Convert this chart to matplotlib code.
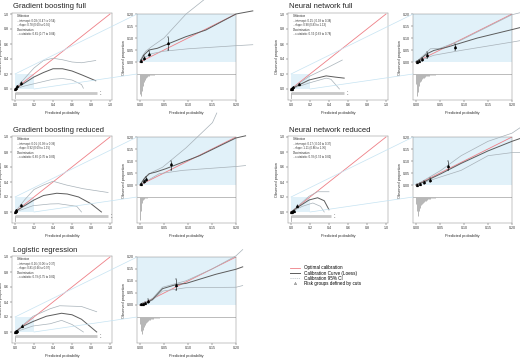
import matplotlib
matplotlib.use("Agg")
import matplotlib.pyplot as plt
from matplotlib.lines import Line2D
from matplotlib.patches import ConnectionPatch, Rectangle

W, H = 520, 358
RED = "#ee7f86"
DARK = "#5c5c5c"
CI = "#a7b1b8"
SHADE = "#e1f1f9"
LINK = "#c6e3f2"
INK = "#333333"

plt.rcParams["font.family"] = ["Liberation Sans", "DejaVu Sans"]

# ---- data ----------------------------------------------------------------
titles = ["Gradient boosting full", "Neural network full",
          "Gradient boosting reduced", "Neural network reduced",
          "Logistic regression"]
intercepts = ["0.03 (-0.47 to 0.54)", "0.15 (-0.08 to 0.38)",
              "0.01 (-0.38 to 0.39)", "0.17 (-0.04 to 0.37)",
              "0.16 (-0.06 to 0.37)"]
slopes = ["0.78 (0.60 to 0.96)", "0.98 (0.83 to 1.13)",
          "0.92 (0.69 to 1.15)", "1.11 (0.86 to 1.36)",
          "0.81 (0.66 to 0.97)"]
cstats = ["0.81 (0.77 to 0.84)", "0.74 (0.69 to 0.78)",
          "0.80 (0.76 to 0.83)", "0.78 (0.74 to 0.82)",
          "0.79 (0.75 to 0.82)"]

# left panels (full range), (x, y) pairs
gbf_l_cal = [(0, 0), (0.1, 0.08), (0.2, 0.16), (0.3, 0.22), (0.4, 0.27), (0.5, 0.27), (0.6, 0.24), (0.7, 0.19), (0.85, 0.11)]
gbf_l_up = [(0, 0), (0.1, 0.14), (0.2, 0.28), (0.3, 0.38), (0.4, 0.41), (0.5, 0.39), (0.6, 0.36), (0.7, 0.35), (0.85, 0.38)]
gbf_l_lo = [(0, 0), (0.1, 0.04), (0.2, 0.07), (0.3, 0.10), (0.4, 0.13), (0.5, 0.14), (0.6, 0.12), (0.7, 0.06), (0.72, 0.01)]
nnf_l_cal = [(0, 0), (0.09, 0.057), (0.19, 0.12), (0.37, 0.175), (0.47, 0.158), (0.56, 0.145)]
nnf_l_up = [(0, 0), (0.19, 0.167), (0.37, 0.276), (0.54, 0.386)]
nnf_l_lo = [(0, 0), (0.19, 0.08), (0.37, 0.145), (0.42, 0.13), (0.51, 0.0)]
gbr_l_cal = [(0, 0), (0.05, 0.044), (0.2, 0.16), (0.3, 0.22), (0.44, 0.25), (0.55, 0.24), (0.67, 0.2), (0.8, 0.11), (0.91, 0.0)]
gbr_l_up = [(0, 0), (0.1, 0.16), (0.2, 0.3), (0.3, 0.36), (0.4, 0.41), (0.54, 0.36), (0.72, 0.31), (0.98, 0.26)]
gbr_l_lo = [(0, 0), (0.19, 0.084), (0.37, 0.107), (0.46, 0.11), (0.65, 0.076), (0.7, 0.0)]
nnr_l_cal = [(0, 0), (0.087, 0.076), (0.19, 0.16), (0.28, 0.19), (0.35, 0.15), (0.4, 0.03)]
nnr_l_up = [(0, 0), (0.19, 0.21), (0.28, 0.27), (0.4, 0.27)]
nnr_l_lo = [(0, 0), (0.12, 0.076), (0.23, 0.12), (0.31, 0.076), (0.35, 0.0)]
lr_l_cal = [(0, 0), (0.09, 0.08), (0.19, 0.14), (0.33, 0.21), (0.49, 0.25), (0.6, 0.23), (0.7, 0.17), (0.86, 0.0)]
lr_l_up = [(0, 0), (0.19, 0.21), (0.37, 0.31), (0.47, 0.35), (0.7, 0.34), (0.86, 0.27)]
lr_l_lo = [(0, 0), (0.19, 0.08), (0.37, 0.11), (0.49, 0.155), (0.6, 0.1), (0.72, 0.0)]

# right panels (zoom 0-0.2)
gbf_r_cal = [(0, 0), (0.008, 0.029), (0.019, 0.05), (0.026, 0.053), (0.036, 0.057), (0.053, 0.071), (0.095, 0.105), (0.137, 0.133), (0.2, 0.2), (0.235, 0.213)]
gbf_r_up = [(0, 0), (0.005, 0.025), (0.012, 0.045), (0.025, 0.065), (0.05, 0.1), (0.096, 0.2), (0.14, 0.27)]
gbf_r_lo = [(0, 0), (0.01, 0.02), (0.025, 0.035), (0.05, 0.045), (0.1, 0.055), (0.2, 0.068), (0.235, 0.072)]
nnf_r_cal = [(0, 0), (0.008, 0.01), (0.0225, 0.034), (0.037, 0.048), (0.065, 0.062), (0.128, 0.1), (0.2, 0.135), (0.22, 0.145)]
nnf_r_up = [(0, 0), (0.019, 0.034), (0.03, 0.055), (0.05, 0.057), (0.093, 0.09), (0.2, 0.197), (0.22, 0.207)]
nnf_r_lo = [(0, 0), (0.037, 0.028), (0.093, 0.048), (0.2, 0.083), (0.22, 0.09)]
gbr_r_cal = [(0, 0), (0.009, 0.027), (0.019, 0.047), (0.033, 0.054), (0.054, 0.068), (0.124, 0.122), (0.2, 0.196), (0.22, 0.205)]
gbr_r_up = [(0, 0), (0.012, 0.034), (0.026, 0.054), (0.047, 0.074), (0.096, 0.155), (0.151, 0.26), (0.16, 0.3)]
gbr_r_lo = [(0, 0), (0.04, 0.047), (0.089, 0.061), (0.137, 0.068), (0.2, 0.077), (0.22, 0.081)]
nnr_r_cal = [(0, 0), (0.017, 0.0135), (0.052, 0.047), (0.094, 0.09), (0.15, 0.142), (0.2, 0.182), (0.22, 0.196)]
nnr_r_up = [(0, 0), (0.052, 0.061), (0.094, 0.122), (0.15, 0.182), (0.2, 0.216), (0.22, 0.243)]
nnr_r_lo = [(0, 0), (0.052, 0.034), (0.094, 0.061), (0.15, 0.122), (0.2, 0.135), (0.22, 0.135)]
lr_r_cal = [(0, 0), (0.0125, 0.007), (0.026, 0.023), (0.047, 0.068), (0.075, 0.085), (0.096, 0.09), (0.158, 0.128), (0.2, 0.149), (0.214, 0.159)]
lr_r_up = [(0, 0), (0.026, 0.027), (0.047, 0.074), (0.096, 0.101), (0.15, 0.15), (0.2, 0.205), (0.214, 0.231)]
lr_r_lo = [(0, 0), (0.026, 0.02), (0.047, 0.058), (0.096, 0.072), (0.2, 0.074), (0.214, 0.081)]

# risk groups: x, observed, lower, upper
gbf_pts = ([0.003, 0.009, 0.018, 0.058], [0.004, 0.015, 0.035, 0.079], [0.0, 0.008, 0.025, 0.052], [0.008, 0.025, 0.045, 0.104])
nnf_pts = ([0.002, 0.007, 0.012, 0.022, 0.082], [0.002, 0.006, 0.012, 0.028, 0.062], [0.0, 0.002, 0.006, 0.018, 0.048], [0.005, 0.01, 0.018, 0.04, 0.076])
gbr_pts = ([0.002, 0.008, 0.013, 0.065], [0.003, 0.015, 0.025, 0.088], [0.0, 0.008, 0.015, 0.061], [0.006, 0.022, 0.035, 0.101])
nnr_pts = ([0.002, 0.009, 0.017, 0.03, 0.066], [0.002, 0.006, 0.012, 0.02, 0.081], [0.0, 0.002, 0.006, 0.012, 0.061], [0.005, 0.01, 0.018, 0.03, 0.101])
lr_pts = ([0.002, 0.006, 0.01, 0.017, 0.075], [0.003, 0.006, 0.009, 0.018, 0.085], [0.0, 0.002, 0.004, 0.01, 0.061], [0.006, 0.01, 0.014, 0.026, 0.108])

# spike histogram of predictions (non-events, downward), bins of 0.002
hist_bin = 0.002
gbf_hist = [0.085, 0.09, 0.07, 0.05, 0.035, 0.025, 0.018, 0.013, 0.01, 0.008, 0.006, 0.005, 0.004, 0.003, 0.003, 0.002, 0.002, 0.002, 0.001, 0.001]
nnf_hist = [0.04, 0.09, 0.075, 0.05, 0.035, 0.028, 0.022, 0.018, 0.015, 0.012, 0.01, 0.009, 0.008, 0.007, 0.006, 0.005, 0.004, 0.004, 0.003, 0.003, 0.002, 0.002, 0.002, 0.001, 0.001]
gbr_hist = [0.095, 0.06, 0.025, 0.012, 0.008, 0.005, 0.004, 0.003, 0.002, 0.002, 0.001]
nnr_hist = [0.03, 0.06, 0.08, 0.06, 0.045, 0.035, 0.03, 0.025, 0.02, 0.018, 0.015, 0.012, 0.01, 0.009, 0.008, 0.006, 0.005, 0.004, 0.003, 0.003, 0.002, 0.002, 0.001]
lr_hist = [0.03, 0.06, 0.07, 0.055, 0.04, 0.032, 0.026, 0.02, 0.017, 0.014, 0.012, 0.01, 0.008, 0.007, 0.006, 0.005, 0.004, 0.004, 0.003, 0.003, 0.002, 0.002, 0.002, 0.001, 0.001]
max_pred = [0.86, 0.56, 0.98, 0.42, 0.86]

models = [
    (gbf_l_cal, gbf_l_up, gbf_l_lo, gbf_r_cal, gbf_r_up, gbf_r_lo, gbf_pts, gbf_hist),
    (nnf_l_cal, nnf_l_up, nnf_l_lo, nnf_r_cal, nnf_r_up, nnf_r_lo, nnf_pts, nnf_hist),
    (gbr_l_cal, gbr_l_up, gbr_l_lo, gbr_r_cal, gbr_r_up, gbr_r_lo, gbr_pts, gbr_hist),
    (nnr_l_cal, nnr_l_up, nnr_l_lo, nnr_r_cal, nnr_r_up, nnr_r_lo, nnr_pts, nnr_hist),
    (lr_l_cal, lr_l_up, lr_l_lo, lr_r_cal, lr_r_up, lr_r_lo, lr_pts, lr_hist),
]
row_top = [14, 137, 257]          # pixel row of y=1.0 / y=0.20
col_shift = [0, 276]


def place(fig, x0, x1, y0, y1):
    return fig.add_axes([x0 / W, 1 - y1 / H, (x1 - x0) / W, (y1 - y0) / H])


def style(ax, xt, yt, fmt):
    ax.set_xticks(xt); ax.set_yticks(yt)
    ax.set_xticklabels([fmt.format(v) for v in xt])
    ax.set_yticklabels([fmt.format(v) for v in yt])
    ax.tick_params(labelsize=2.6, length=1.2, width=0.3, pad=1, colors=INK)
    for s in ax.spines.values():
        s.set_linewidth(0.3); s.set_color("#777777")
    ax.set_xlabel("Predicted probability", fontsize=2.8, labelpad=2.5, color=INK)
    ax.set_ylabel("Observed proportion", fontsize=2.8, labelpad=0.8, color=INK)


def curves(ax, cal, up, lo, clip):
    for pts, col, lw in ((up, CI, 0.5), (lo, CI, 0.5), (cal, DARK, 0.7)):
        ax.plot([p[0] for p in pts], [p[1] for p in pts], color=col, lw=lw,
                clip_on=clip, zorder=3)


fig = plt.figure(figsize=(W / 100, H / 100), dpi=100)

for i, (lcal, lup, llo, rcal, rup, rlo, pts, hist) in enumerate(models):
    T = row_top[i // 2]
    dx = col_shift[i % 2]
    fig.text((13 + dx) / W, 1 - (T - 7) / H, titles[i], fontsize=5.5,
             va="center", ha="left", color="#222222")

    # left: full range
    axl = place(fig, 12.15 + dx, 111.9 + dx, T - 1.5, T + 86.25)
    axl.set_xlim(-0.03, 1.02); axl.set_ylim(-0.15, 1.02)
    axl.add_patch(Rectangle((0, 0), 0.2, 0.2, color=SHADE, lw=0, zorder=0))
    axl.plot([0, 1], [0, 1], color=RED, lw=0.6, zorder=2)
    curves(axl, lcal, lup, llo, True)
    axl.errorbar(pts[0], pts[1],
                 yerr=[[o - l for o, l in zip(pts[1], pts[2])],
                       [h - o for o, h in zip(pts[1], pts[3])]],
                 fmt="^", ms=1.3, color="black", lw=0.4, capsize=0, zorder=4)
    axl.plot([0, max_pred[i]], [-0.05, -0.05], color="#c8c8c8", lw=2.0,
             solid_capstyle="butt", zorder=1)
    axl.plot([0.003, 0.003], [-0.05, -0.12], color="#b0b0b0", lw=0.6)
    axl.text(max_pred[i] + 0.03, -0.035, "1", fontsize=1.6, color=INK, va="bottom")
    axl.text(max_pred[i] + 0.03, -0.065, "0", fontsize=1.6, color=INK, va="top")
    axl.text(0.02, 0.995, f"Calibration\n...intercept: {intercepts[i]}\n"
             f"...slope: {slopes[i]}\nDiscrimination\n...c-statistic: {cstats[i]}",
             fontsize=2.0, va="top", ha="left", color=INK, linespacing=1.15)
    style(axl, [0, 0.2, 0.4, 0.6, 0.8, 1.0], [0, 0.2, 0.4, 0.6, 0.8, 1.0], "{:.1f}")

    # right: zoom on 0-0.2
    axr = place(fig, 138.1 + dx - 1, 237 + dx - 1, T, T + 86.4)
    axr.set_xlim(-0.006, 0.2); axr.set_ylim(-0.16, 0.2)
    axr.axhspan(0, 0.2, color=SHADE, lw=0, zorder=0)
    axr.plot([0, 0.2], [0, 0.2], color=RED, lw=0.6, zorder=2)
    curves(axr, rcal, rup, rlo, False)
    axr.errorbar(pts[0], pts[1],
                 yerr=[[o - l for o, l in zip(pts[1], pts[2])],
                       [h - o for o, h in zip(pts[1], pts[3])]],
                 fmt="^", ms=1.3, color="black", lw=0.4, capsize=0.8,
                 capthick=0.3, zorder=4)
    axr.axhline(-0.05, color="#8a8a8a", lw=0.4, zorder=1)
    for k, d in enumerate(hist):
        xc = hist_bin / 2 + k * hist_bin
        axr.plot([xc, xc], [-0.05, -0.05 - d], color="#b5b5b5", lw=0.7,
                 solid_capstyle="butt", zorder=1)
    style(axr, [0, 0.05, 0.10, 0.15, 0.20], [0, 0.05, 0.10, 0.15, 0.20], "{:.2f}")

    # zoom connectors
    for (xa, ya), (xb, yb) in (((0, 0.2), (-0.006, 0.2)), ((0.2, 0.0), (-0.006, -0.05))):
        con = ConnectionPatch(xyA=(xa, ya), coordsA=axl.transData,
                              xyB=(xb, yb), coordsB=axr.transData,
                              color=LINK, lw=0.5, zorder=5)
        fig.add_artist(con)

handles = [Line2D([], [], color=RED, lw=0.6),
           Line2D([], [], color=DARK, lw=0.7),
           Line2D([], [], color=CI, lw=0.5, ls=(0, (1.5, 1.5))),
           Line2D([], [], color=INK, lw=0, marker="^", ms=1.5, mfc="none", mew=0.3)]
labels = ["Optimal calibration", "Calibration Curve (Loess)",
          "Calibration 95% CI", "Risk groups defined by cuts"]
fig.legend(handles, labels, loc="upper left", bbox_to_anchor=(288 / W, 1 - 263 / H),
           frameon=False, fontsize=3.3, handlelength=2.2, handletextpad=0.8,
           labelspacing=0.05, borderpad=0)

fig.savefig("out.png", dpi=100)
